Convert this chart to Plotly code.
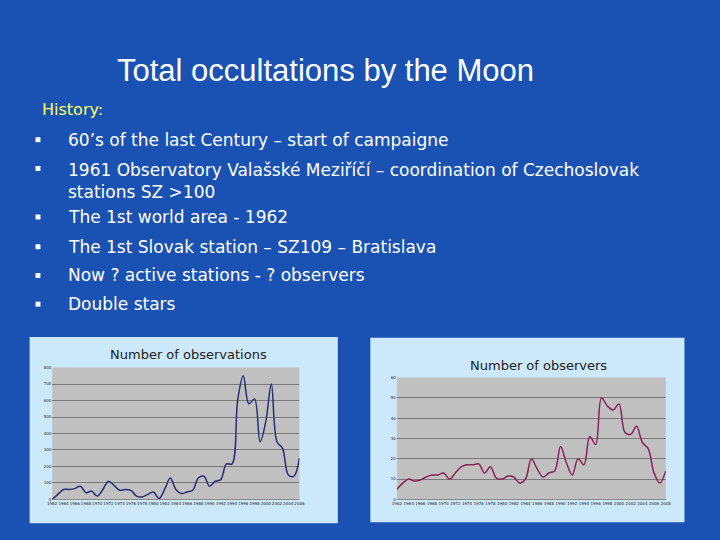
import plotly.graph_objects as go

years_obs = list(range(1962, 2007))
observations = [0, 30, 60, 60, 65, 80, 40, 50, 20, 60, 110, 85, 55, 60, 55, 20, 15, 30, 45, 5,
                60, 130, 60, 35, 45, 55, 130, 140, 80, 110, 120, 215, 215, 600, 750, 580, 610,
                350, 470, 700, 350, 310, 150, 140, 250]
years_obsr = list(range(1962, 2009))
observers = [5, 8, 10, 9, 9.5, 11, 12, 12, 13, 10, 13, 16, 17, 17, 17.5, 13, 16, 10.5, 10, 11.5,
             11, 8, 10, 20, 15, 11, 13, 14, 26, 18, 12, 20, 17, 31, 27, 50, 46, 44, 47, 33,
             32, 36, 28, 25, 13, 8, 14]
bullets = [
    "60’s of the last Century – start of campaigne",
    "1961 Observatory Valašské Meziříčí – coordination of Czechoslovak<br>stations SZ >100",
    "The 1st world area - 1962",
    "The 1st Slovak station – SZ109 – Bratislava",
    "Now ? active stations - ? observers",
    "Double stars",
]
bullet_y = [138, 167, 216, 246, 275, 304]


def px(x):
    return x / 720


def py(y):
    return 1 - y / 540


fig = go.Figure()
fig.add_trace(go.Scatter(x=years_obs, y=observations, mode="lines", line=dict(color="#2b2b78", width=1.5, shape="spline"),
                         xaxis="x", yaxis="y"))
fig.add_trace(go.Scatter(x=years_obsr, y=observers, mode="lines", line=dict(color="#8b2352", width=1.5, shape="spline"),
                         xaxis="x2", yaxis="y2"))

ax = dict(tickfont=dict(size=4, color="#222"), tickangle=0, showgrid=False, linecolor="#888", ticks="", zeroline=False)
ay = dict(tickfont=dict(size=4, color="#222"), gridcolor="#7a7a7a", zeroline=False, ticks="")
fig.update_layout(
    width=720, height=540, margin=dict(l=0, r=0, t=0, b=0), showlegend=False,
    paper_bgcolor="#1a52b4", plot_bgcolor="rgba(0,0,0,0)",
    xaxis=dict(ax, domain=[px(48), px(299)], range=[1962, 2006], dtick=2, anchor="y"),
    yaxis=dict(ay, domain=[py(501), py(368)], range=[0, 800], dtick=100, anchor="x"),
    xaxis2=dict(ax, domain=[px(398), px(671)], range=[1962, 2008], dtick=2, anchor="y2"),
    yaxis2=dict(ay, domain=[py(501), py(378)], range=[0, 60], dtick=10, anchor="x2"),
    font=dict(family="DejaVu Sans"),
)
shapes = [
    dict(type="rect", xref="paper", yref="paper", x0=px(25), x1=px(338), y0=py(525), y1=py(337),
         fillcolor="#cce8fb", line=dict(width=0), layer="below"),
    dict(type="rect", xref="paper", yref="paper", x0=px(371), x1=px(690), y0=py(524), y1=py(338),
         fillcolor="#cce8fb", line=dict(width=0), layer="below"),
    dict(type="rect", xref="x domain", yref="y domain", x0=0, x1=1, y0=0, y1=1,
         fillcolor="#c0c0c0", line=dict(width=0), layer="below"),
    dict(type="rect", xref="x2 domain", yref="y2 domain", x0=0, x1=1, y0=0, y1=1,
         fillcolor="#c0c0c0", line=dict(width=0), layer="below"),
]
ann = [
    dict(text="Total occultations by the Moon", x=px(325), y=py(68), xanchor="center",
         font=dict(family="Liberation Sans", size=31, color="white")),
    dict(text="History:", x=px(36), y=py(108), xanchor="left", font=dict(size=16, color="#ffff66")),
    dict(text="Number of observations", x=px(186), y=py(355), xanchor="center", font=dict(size=13, color="#222")),
    dict(text="Number of observers", x=px(542), y=py(366), xanchor="center", font=dict(size=13, color="#222")),
]
for txt, yy in zip(bullets, bullet_y):
    two = "<br>" in txt
    ann.append(dict(text=txt, x=px(62), y=py(yy - 11) if two else py(yy), xanchor="left",
                    yanchor="top" if two else "middle", align="left", font=dict(size=17, color="white")))
    shapes.append(dict(type="rect", xref="paper", yref="paper", x0=px(31), x1=px(36),
                       y0=py(yy + 2.5), y1=py(yy - 2.5), fillcolor="white", line=dict(width=0)))
for a in ann:
    a.update(xref="paper", yref="paper", showarrow=False)
    a.setdefault("yanchor", "middle")
fig.update_layout(shapes=shapes, annotations=ann)
fig.write_html("out.html", config={"displayModeBar": False},
               post_script="document.body.style.margin='0';document.body.style.background='#1a52b4';")
